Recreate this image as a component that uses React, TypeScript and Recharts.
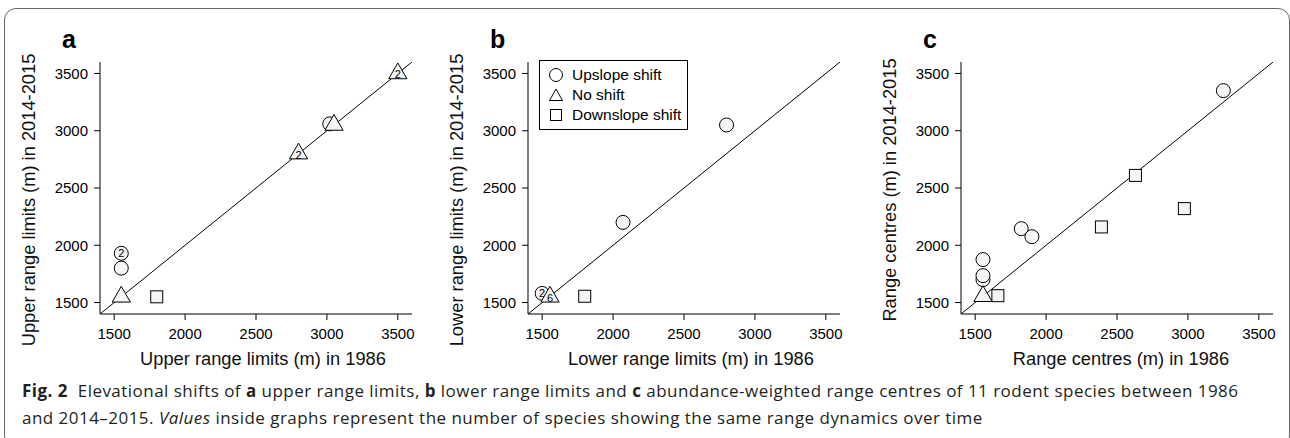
import React from "react";
import { ScatterChart, Scatter, XAxis, YAxis, Legend, Customized } from "recharts";

const DOMAIN: [number, number] = [1400, 3600];
const TICKS = [1500, 2000, 2500, 3000, 3500];

// a: upper range limits (n = number of species at the same point)
const upperUpslope = [
  { x: 1550, y: 1930, n: 2 },
  { x: 1550, y: 1800, n: 1 },
  { x: 3020, y: 3060, n: 1 },
];
const upperNoShift = [
  { x: 1550, y: 1550, n: 1 },
  { x: 2800, y: 2800, n: 2 },
  { x: 3050, y: 3050, n: 1 },
  { x: 3500, y: 3500, n: 2 },
];
const upperDownslope = [{ x: 1800, y: 1550, n: 1 }];

// b: lower range limits
const lowerUpslope = [
  { x: 1500, y: 1580, n: 2 },
  { x: 2070, y: 2200, n: 1 },
  { x: 2800, y: 3050, n: 1 },
];
const lowerNoShift = [{ x: 1555, y: 1550, n: 6 }];
const lowerDownslope = [{ x: 1800, y: 1555, n: 1 }];

// c: range centres
const centreUpslope = [
  { x: 1555, y: 1875, n: 1 },
  { x: 1555, y: 1700, n: 1 },
  { x: 1555, y: 1735, n: 1 },
  { x: 1825, y: 2145, n: 1 },
  { x: 1900, y: 2075, n: 1 },
  { x: 3250, y: 3350, n: 1 },
];
const centreNoShift = [{ x: 1555, y: 1555, n: 1 }];
const centreDownslope = [
  { x: 1660, y: 1560, n: 1 },
  { x: 2390, y: 2160, n: 1 },
  { x: 2630, y: 2610, n: 1 },
  { x: 2975, y: 2320, n: 1 },
];

const SHIFT_NAMES = ["Upslope shift", "No shift", "Downslope shift"];

const diagonal = [
  { x: DOMAIN[0], y: DOMAIN[0] },
  { x: DOMAIN[1], y: DOMAIN[1] },
];

const FONT = '"Liberation Sans", Arial, sans-serif';
const FILL = "#f5f5f5";

const countText = (cx: number, cy: number, n: number) =>
  n > 1 ? (
    <text x={cx} y={cy + 4} textAnchor="middle" fontSize={11} fontFamily={FONT} fill="#000">
      {n}
    </text>
  ) : null;

const circleShape = (p: any) => (
  <g>
    <circle cx={p.cx} cy={p.cy} r={7} fill={FILL} stroke="#000" strokeWidth={1} />
    {countText(p.cx, p.cy, p.payload.n)}
  </g>
);

const triangleShape = (p: any) => {
  const { cx, cy } = p;
  const pts = `${cx},${cy - 10.5} ${cx + 9.1},${cy + 5.25} ${cx - 9.1},${cy + 5.25}`;
  return (
    <g>
      <polygon points={pts} fill={FILL} stroke="#000" strokeWidth={1} />
      {countText(cx, cy + 1, p.payload.n)}
    </g>
  );
};

const squareShape = (p: any) => (
  <g>
    <rect x={p.cx - 6} y={p.cy - 6} width={12} height={12} fill={FILL} stroke="#000" strokeWidth={1} />
    {countText(p.cx, p.cy, p.payload.n)}
  </g>
);

const legendIcon = (name: string) => {
  if (name === "Upslope shift") return <circle cx={8} cy={8} r={6.5} fill="none" stroke="#000" />;
  if (name === "No shift") return <polygon points="8,2 14.5,13.5 1.5,13.5" fill="none" stroke="#000" />;
  return <rect x={2.5} y={2.5} width={11} height={11} fill="none" stroke="#000" />;
};

const renderLegend = (props: any) => {
  const items = (props.payload || [])
    .filter((e: any) => SHIFT_NAMES.includes(e.value))
    .sort((a: any, b: any) => SHIFT_NAMES.indexOf(a.value) - SHIFT_NAMES.indexOf(b.value));
  return (
    <div
      style={{
        border: "1px solid #000",
        padding: "4px 6px 4px 8px",
        background: "#fff",
        fontFamily: FONT,
        fontSize: 15.5,
        color: "#000",
      }}
    >
      {items.map((e: any) => (
        <div key={e.value} style={{ display: "flex", alignItems: "center", height: 20 }}>
          <svg width={16} height={16} style={{ marginRight: 8 }}>
            {legendIcon(e.value)}
          </svg>
          <span>{e.value}</span>
        </div>
      ))}
    </div>
  );
};

const xLabel = (text: string, dx: number) => (p: any) => {
  const vb = p.viewBox;
  return (
    <text x={vb.x + vb.width / 2 + dx} y={vb.y + vb.height - 7} textAnchor="middle" fontSize={18.3} fontFamily={FONT} fill="#111">
      {text}
    </text>
  );
};

const yLabel = (text: string, shift: number) => (p: any) => {
  const vb = p.viewBox;
  const x = vb.x + 35;
  const y = vb.y + vb.height / 2 + shift;
  return (
    <text x={x} y={y} transform={`rotate(-90 ${x} ${y})`} textAnchor="middle" fontSize={18.3} fontFamily={FONT} fill="#111">
      {text}
    </text>
  );
};

function Panel(props: any) {
  const { left, letter, up, none, down, xText, yText, xdx, yShift, legend } = props;
  return (
    <div style={{ position: "absolute", left, top: 0, fontFamily: FONT }}>
      <ScatterChart width={430} height={372} margin={{ top: 62, right: 18, bottom: 0, left: 0 }}>
        <XAxis
          type="number"
          dataKey="x"
          domain={DOMAIN}
          ticks={TICKS}
          allowDataOverflow
          height={58}
          tickSize={6}
          tickMargin={8}
          axisLine={{ stroke: "#000" }}
          tickLine={{ stroke: "#000" }}
          tick={{ fill: "#000", fontSize: 15, fontFamily: FONT }}
          label={xLabel(xText, xdx)}
        />
        <YAxis
          type="number"
          dataKey="y"
          domain={DOMAIN}
          ticks={TICKS}
          allowDataOverflow
          width={100}
          tickSize={6}
          tickMargin={6}
          axisLine={{ stroke: "#000" }}
          tickLine={{ stroke: "#000" }}
          tick={{ fill: "#000", fontSize: 15, fontFamily: FONT }}
          label={yLabel(yText, yShift)}
        />
        <Scatter data={diagonal} line={{ stroke: "#000", strokeWidth: 1 }} shape={() => <g />} legendType="none" isAnimationActive={false} />
        <Scatter name="Upslope shift" data={up} shape={circleShape} fill="#000" isAnimationActive={false} />
        <Scatter name="No shift" data={none} shape={triangleShape} fill="#000" isAnimationActive={false} />
        <Scatter name="Downslope shift" data={down} shape={squareShape} fill="#000" isAnimationActive={false} />
        {legend && (
          <Legend
            layout="vertical"
            align="center"
            verticalAlign="middle"
            content={renderLegend}
            wrapperStyle={{ left: 111, top: 60, width: "auto", height: "auto" }}
          />
        )}
        <Customized
          component={() => (
            <text x={62} y={48} fontSize={25} fontWeight="bold" fontFamily={FONT} fill="#000">
              {letter}
            </text>
          )}
        />
      </ScatterChart>
    </div>
  );
}

export default function App() {
  return (
    <div style={{ position: "fixed", left: 0, top: 0, width: 1290, height: 438, overflow: "hidden", background: "#fff" }}>
      <div
        style={{
          position: "absolute",
          left: 4,
          top: 8,
          width: 1286,
          height: 440,
          boxSizing: "border-box",
          border: "1px solid #666",
          borderRadius: 12,
        }}
      />
      <Panel
        left={0}
        letter="a"
        up={upperUpslope}
        none={upperNoShift}
        down={upperDownslope}
        xText="Upper range limits (m) in 1986"
        yText="Upper range limits (m) in 2014-2015"
        xdx={7}
        yShift={12}
      />
      <Panel
        left={428}
        letter="b"
        up={lowerUpslope}
        none={lowerNoShift}
        down={lowerDownslope}
        xText="Lower range limits (m) in 1986"
        yText="Lower range limits (m) in 2014-2015"
        xdx={7}
        yShift={12}
        legend
      />
      <Panel
        left={861}
        letter="c"
        up={centreUpslope}
        none={centreNoShift}
        down={centreDownslope}
        xText="Range centres (m) in 1986"
        yText="Range centres (m) in 2014-2015"
        xdx={4}
        yShift={2}
      />
      <div
        style={{
          position: "absolute",
          left: 22,
          top: 377,
          fontFamily: '"Open Sans", sans-serif',
          fontSize: 17,
          letterSpacing: 0.47,
          lineHeight: "27px",
          color: "#231f20",
          whiteSpace: "nowrap",
        }}
      >
        <b>Fig. 2</b>&nbsp; Elevational shifts of <b>a</b> upper range limits, <b>b</b> lower range limits and <b>c</b>{" "}
        abundance-weighted range centres of 11 rodent species between 1986
        <br />
        and 2014–2015. <i>Values</i> inside graphs represent the number of species showing the same range dynamics over time
      </div>
    </div>
  );
}
